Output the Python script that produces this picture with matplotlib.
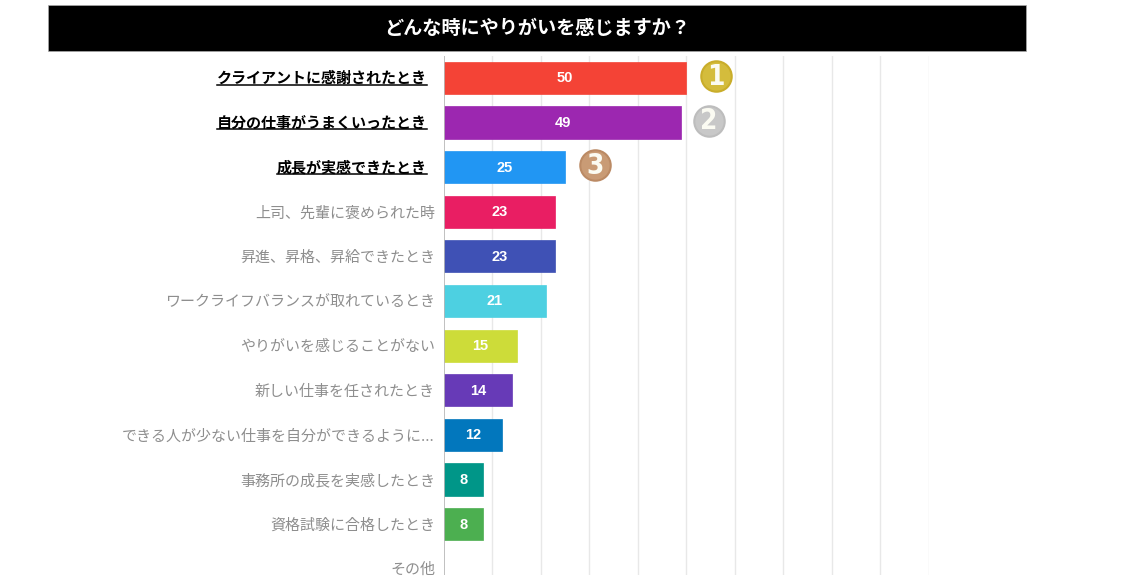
import matplotlib
matplotlib.use('Agg')
from matplotlib import pyplot as plt
from matplotlib.lines import Line2D
from matplotlib.patches import Rectangle

plt.rcParams['font.family'] = ['Noto Sans CJK JP', 'DejaVu Sans']

title = 'どんな時にやりがいを感じますか？'
categories = [
    'クライアントに感謝されたとき', '自分の仕事がうまくいったとき', '成長が実感できたとき',
    '上司、先輩に褒められた時', '昇進、昇格、昇給できたとき',
    'ワークライフバランスが取れているとき', 'やりがいを感じることがない',
    '新しい仕事を任されたとき', 'できる人が少ない仕事を自分ができるように...',
    '事務所の成長を実感したとき', '資格試験に合格したとき', 'その他',
]
values = [50, 49, 25, 23, 23, 21, 15, 14, 12, 8, 8, 0]
colors = ['#f44336', '#9c27b0', '#2196f3', '#e91e63', '#3f51b5', '#4dd0e1',
          '#cddc39', '#673ab7', '#0277bd', '#009688', '#4caf50', '#ff9800']
medal_colors = ['#d4bc3c', '#c8c8c8', '#c99b75']
medal_edges = ['#c9ad2a', '#bdbdbd', '#bb8a64']
medal_gaps = [6.2, 5.6, 6.2]
ticks = list(range(0, 101, 10))

W, H = 1132, 582
fig = plt.figure(figsize=(W / 100, H / 100), dpi=100, facecolor='white')

# title band, in pixels from the top left
band = Rectangle((48 / W, 1 - 51 / H), 978 / W, 46 / H, transform=fig.transFigure,
                 facecolor='black', edgecolor='#aaaaaa', linewidth=0.5)
fig.add_artist(band)
fig.text(537 / W, 1 - 28 / H, title, color='white', fontsize=13.8, weight='bold',
         ha='center', va='center')

ax = fig.add_axes([444 / W, 1 - 575 / H, 484.5 / W, 519 / H])
ax.set_xlim(0, 100)
ax.set_ylim(11.14, -0.49)

rows = list(range(len(categories)))
for x in ticks[1:]:
    ax.axvline(x, color='#e8e8e8', linewidth=1, zorder=0)
ax.axvline(0, color='#b5b5b5', linewidth=1.2, zorder=3)

for r, v, c in zip(rows, values, colors):
    if v == 0:
        continue
    ax.barh(r, v, height=0.72, color=c, edgecolor=c, linewidth=0.5, zorder=2)
    ax.text(v / 2, r + 0.01, str(v), color='white', fontsize=10.5, weight='bold',
            ha='center', va='center', family=['Liberation Sans', 'DejaVu Sans'], zorder=4)

# medals for the top three
for i in range(3):
    ax.scatter(values[i] + medal_gaps[i], rows[i] - 0.04, s=480, color=medal_colors[i],
               edgecolor=medal_edges[i], linewidth=1.5, clip_on=False, zorder=4)
    ax.text(values[i] + medal_gaps[i], rows[i] - 0.03, str(i + 1), color='#fbfbf2',
            fontsize=20, ha='center', va='center', weight='bold', stretch='condensed',
            family=['DejaVu Sans'], zorder=5)

ax.set_yticks([])
ax.set_xticks([])
for s in ax.spines.values():
    s.set_visible(False)
ax.patch.set_alpha(0)

# category labels, top three bold and underlined
labels = []
for r, name in zip(rows, categories):
    top = r < 3
    t = ax.text(-(17 if top else 9) / 4.845, r + (0 if top else 0.03), name, ha='right', va='center',
                fontsize=10.85 if top else 10.8, color='black' if top else '#8e8e8e',
                weight='bold' if top else 'normal', clip_on=False)
    labels.append((t, top))

fig.canvas.draw()
renderer = fig.canvas.get_renderer()
for t, top in labels:
    if top:
        box = t.get_window_extent(renderer)
        fig.add_artist(Line2D([box.x0 / W, box.x1 / W],
                              [(box.y0 + 1) / H, (box.y0 + 1) / H],
                              color='black', linewidth=1.1))

fig.savefig('out.png', dpi=100)
